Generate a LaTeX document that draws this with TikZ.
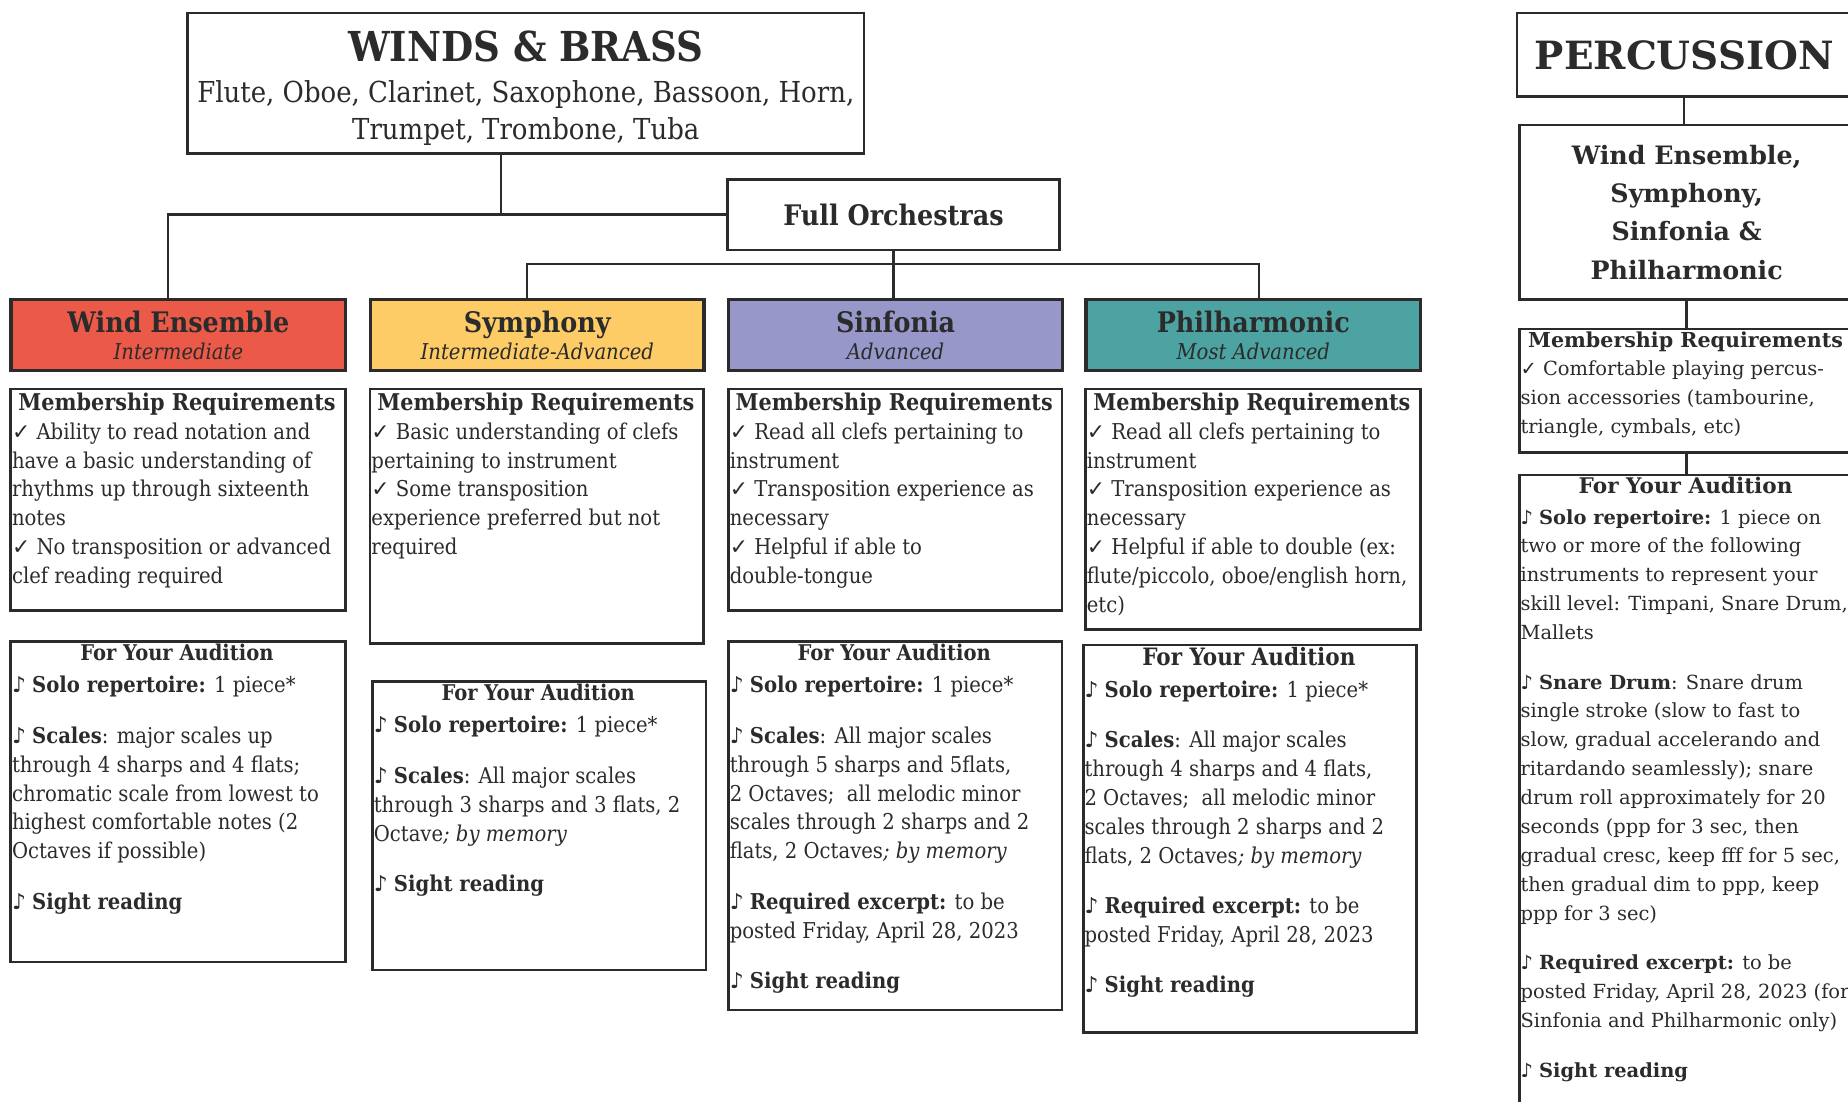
\documentclass[tikz,border=0pt]{standalone}
\usepackage{fontspec}
\setmainfont{DejaVu Serif Condensed}
\newfontfamily\percfont{DejaVu Serif}
\newfontfamily\symfont{DejaVu Sans}
\usepackage{tikz}
\usepackage{xcolor}
\definecolor{inkgray}{HTML}{2B2B2B}
\definecolor{weRed}{HTML}{EB5A48}
\definecolor{symYellow}{HTML}{FECC66}
\definecolor{sinPurple}{HTML}{9797CA}
\definecolor{philTeal}{HTML}{4CA3A2}
\newcommand\chk{{\symfont ✓}}
\newcommand\nt{{\symfont ♪}}
\newcommand\hdrtitle{\fontsize{24}{24}\selectfont\bfseries}
\newcommand\memtitle{\fontsize{19.6}{19.6}\selectfont\bfseries}
\newcommand\audtitle{\fontsize{18.4}{18.4}\selectfont\bfseries}

\begin{document}
\begin{tikzpicture}[x=1pt, y=-1pt,
  every node/.style={text=inkgray, inner sep=0pt},
  plainbox/.style={draw=inkgray, line width=2.2pt, anchor=north west},
  hdrbox/.style={draw=inkgray, line width=2.8pt, anchor=north west, minimum width=284pt, minimum height=60pt, align=center, font=\fontsize{18.5}{23}\selectfont},
  bodytxt/.style={anchor=north west, align=left, font=\fontsize{18.5}{24.5}\selectfont},
  perctxt/.style={anchor=north west, align=left, font=\percfont\fontsize{16.5}{24.5}\selectfont},
  link/.style={draw=inkgray, line width=2pt}]
\useasboundingbox (0,0) rectangle (1568,935);
\clip (0,0) rectangle (1568,935);
\fill[white] (0,0) rectangle (1568,935);

% Winds & brass
\node[plainbox, minimum width=574pt, minimum height=119pt] (winds) at (158,10) {};
\node[anchor=north, align=center, font=\fontsize{24.5}{32}\selectfont] (winds-txt) at ([yshift=-16pt]winds.north) {{\fontsize{35}{35}\selectfont\bfseries WINDS \& BRASS}\\[2.5pt]Flute, Oboe, Clarinet, Saxophone, Bassoon, Horn,\\Trumpet, Trombone, Tuba};

% Full orchestras
\node[plainbox, minimum width=282pt, minimum height=60pt, font=\fontsize{24}{24}\selectfont\bfseries] (orch) at (616,151) {Full Orchestras};

% Ensemble headers
\node[hdrbox, fill=weRed] (we) at (8,253) {{\hdrtitle Wind Ensemble}\\{\itshape Intermediate}};
\node[hdrbox, fill=symYellow, minimum width=283pt] (sym) at (313,253) {{\hdrtitle Symphony}\\{\itshape Intermediate-Advanced}};
\node[hdrbox, fill=sinPurple, minimum width=283pt] (sin) at (617,253) {{\hdrtitle Sinfonia}\\{\itshape Advanced}};
\node[hdrbox, fill=philTeal] (phil) at (920,253) {{\hdrtitle Philharmonic}\\{\itshape Most Advanced}};

% Connectors
\coordinate (split) at (757,224);
\draw[link] ([xshift=-21pt]winds.south) -- ([xshift=-21pt]winds.south |- orch.west);
\draw[link] (orch.west) -| ([xshift=-9pt]we.north);
\draw[link] (orch.south) -- (orch.south |- sin.north);
\draw[link] ([xshift=-9pt]sym.north) |- (split) -| ([xshift=5pt]phil.north);

% Membership requirements
\node[plainbox, minimum width=284pt, minimum height=188pt] (we-mem) at (8,329) {};
\node[bodytxt] (we-mem-txt) at ([xshift=2pt,yshift=-4pt]we-mem.north west) {\makebox[280pt]{\memtitle Membership Requirements}\\
\chk\ Ability to read notation and\\
have a basic understanding of\\
rhythms up through sixteenth\\
notes\\
\chk\ No transposition or advanced\\
clef reading required};

\node[plainbox, minimum width=283pt, minimum height=216pt] (sym-mem) at (313,329) {};
\node[bodytxt] (sym-mem-txt) at ([xshift=2pt,yshift=-4pt]sym-mem.north west) {\makebox[279pt]{\memtitle Membership Requirements}\\
\chk\ Basic understanding of clefs\\
pertaining to instrument\\
\chk\ Some transposition\\
experience preferred but not\\
required};

\node[plainbox, minimum width=283pt, minimum height=188pt] (sin-mem) at (617,329) {};
\node[bodytxt] (sin-mem-txt) at ([xshift=2pt,yshift=-4pt]sin-mem.north west) {\makebox[279pt]{\memtitle Membership Requirements}\\
\chk\ Read all clefs pertaining to\\
instrument\\
\chk\ Transposition experience as\\
necessary\\
\chk\ Helpful if able to\\
double-tongue};

\node[plainbox, minimum width=284pt, minimum height=204pt] (phil-mem) at (920,329) {};
\node[bodytxt] (phil-mem-txt) at ([xshift=2pt,yshift=-4pt]phil-mem.north west) {\makebox[280pt]{\memtitle Membership Requirements}\\
\chk\ Read all clefs pertaining to\\
instrument\\
\chk\ Transposition experience as\\
necessary\\
\chk\ Helpful if able to double (ex:\\
flute/piccolo, oboe/english horn,\\
etc)};

% Auditions
\node[plainbox, minimum width=284pt, minimum height=272pt] (we-aud) at (8,543) {};
\node[bodytxt] (we-aud-txt) at ([xshift=2pt,yshift=-3pt]we-aud.north west) {\makebox[280pt]{\audtitle For Your Audition}\\[3pt]
\nt\ {\bfseries Solo repertoire:} 1 piece*\\[18.5pt]
\nt\ {\bfseries Scales}: major scales up\\
through 4 sharps and 4 flats;\\
chromatic scale from lowest to\\
highest comfortable notes (2\\
Octaves if possible)\\[18.5pt]
\nt\ {\bfseries Sight reading}};

\node[plainbox, minimum width=283pt, minimum height=245pt] (sym-aud) at (315,577) {};
\node[bodytxt] (sym-aud-txt) at ([xshift=2pt,yshift=-3pt]sym-aud.north west) {\makebox[279pt]{\audtitle For Your Audition}\\[3pt]
\nt\ {\bfseries Solo repertoire:} 1 piece*\\[18.5pt]
\nt\ {\bfseries Scales}: All major scales\\
through 3 sharps and 3 flats, 2\\
Octave{\itshape; by memory}\\[18pt]
\nt\ {\bfseries Sight reading}};

\node[plainbox, minimum width=283pt, minimum height=313pt] (sin-aud) at (617,543) {};
\node[bodytxt] (sin-aud-txt) at ([xshift=2pt,yshift=-3pt]sin-aud.north west) {\makebox[279pt]{\audtitle For Your Audition}\\[3pt]
\nt\ {\bfseries Solo repertoire:} 1 piece*\\[18.5pt]
\nt\ {\bfseries Scales}: All major scales\\
through 5 sharps and 5flats,\\
2 Octaves;\ \ all melodic minor\\
scales through 2 sharps and 2\\
flats, 2 Octaves{\itshape; by memory}\\[18.5pt]
\nt\ {\bfseries Required excerpt:} to be\\
posted Friday, April 28, 2023\\[18pt]
\nt\ {\bfseries Sight reading}};

\node[plainbox, minimum width=283pt, minimum height=329pt] (phil-aud) at (918,546) {};
\node[bodytxt] (phil-aud-txt) at ([xshift=2pt,yshift=-3pt]phil-aud.north west) {\makebox[279pt]{\fontsize{20.3}{20.3}\selectfont\bfseries For Your Audition}\\[2.5pt]
\nt\ {\bfseries Solo repertoire:} 1 piece*\\[18.5pt]
\nt\ {\bfseries Scales}: All major scales\\
through 4 sharps and 4 flats,\\
2 Octaves;\ \ all melodic minor\\
scales through 2 sharps and 2\\
flats, 2 Octaves{\itshape; by memory}\\[18pt]
\nt\ {\bfseries Required excerpt:} to be\\
posted Friday, April 28, 2023\\[18pt]
\nt\ {\bfseries Sight reading}};

% Percussion
\node[plainbox, minimum width=284pt, minimum height=71pt, font=\percfont\fontsize{33}{33}\selectfont\bfseries] (perc) at (1286,10) {PERCUSSION};
\node[plainbox, minimum width=284pt, minimum height=148pt, align=center, font=\percfont\fontsize{21.5}{32.5}\selectfont\bfseries] (perc-ens) at (1288,105) {Wind Ensemble,\\Symphony,\\Sinfonia \&\\Philharmonic};
\node[plainbox, minimum width=284pt, minimum height=105pt] (perc-mem) at (1288,278) {};
\node[perctxt] (perc-mem-txt) at ([xshift=2pt,yshift=-3pt]perc-mem.north west) {\makebox[280pt]{\fontsize{17.5}{17.5}\selectfont\bfseries Membership Requirements}\\
\chk\ Comfortable playing percus-\\
sion accessories (tambourine,\\
triangle, cymbals, etc)};
\node[plainbox, minimum width=284pt, minimum height=560pt] (perc-aud) at (1288,402) {};
\node[perctxt] (perc-aud-txt) at ([xshift=2pt,yshift=-3pt]perc-aud.north west) {\makebox[280pt]{\fontsize{18.3}{18.3}\selectfont\bfseries For Your Audition}\\[1pt]
\nt\ {\bfseries Solo repertoire:} 1 piece on\\
two or more of the following\\
instruments to represent your\\
skill level: Timpani, Snare Drum,\\
Mallets\\[17.5pt]
\nt\ {\bfseries Snare Drum}: Snare drum\\
single stroke (slow to fast to\\
slow, gradual accelerando and\\
ritardando seamlessly); snare\\
drum roll approximately for 20\\
seconds (ppp for 3 sec, then\\
gradual cresc, keep fff for 5 sec,\\
then gradual dim to ppp, keep\\
ppp for 3 sec)\\[17.5pt]
\nt\ {\bfseries Required excerpt:} to be\\
posted Friday, April 28, 2023 (for\\
Sinfonia and Philharmonic only)\\[18pt]
\nt\ {\bfseries Sight reading}};
\draw[link] (perc.south) -- (perc.south |- perc-ens.north);
\draw[link] (perc-ens.south) -- (perc-mem.north);
\draw[link] (perc-mem.south) -- (perc-aud.north);
\end{tikzpicture}
\end{document}
